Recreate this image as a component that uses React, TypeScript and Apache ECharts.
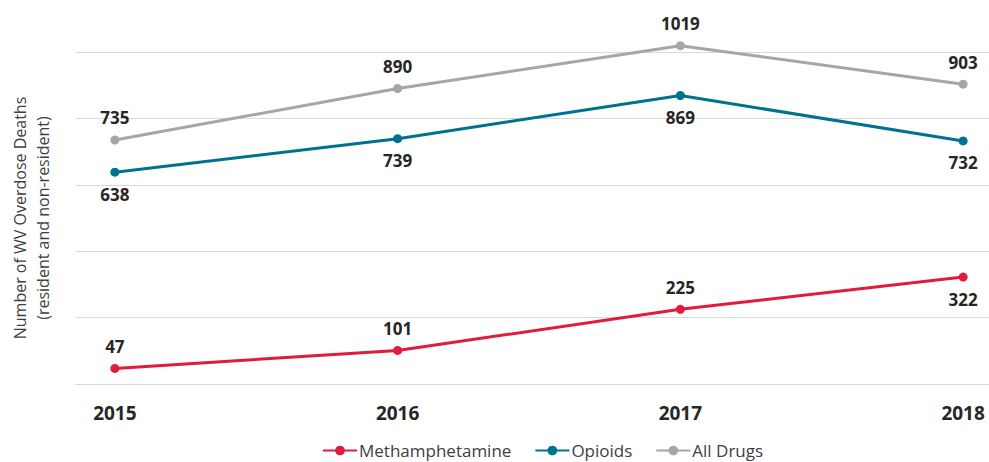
import React, { useEffect, useRef } from "react";
import * as echarts from "echarts";

const years = [2015, 2016, 2017, 2018];
const methValues = [47, 101, 225, 322];
const opioidValues = [638, 739, 869, 732];
const allDrugValues = [735, 890, 1019, 903];
const methLabelPos = ["top", "top", "top", "bottom"];
const seriesNames = ["Methamphetamine", "Opioids", "All Drugs"];

const FONT = "'Open Sans', sans-serif";

export default function App() {
  const ref = useRef<HTMLDivElement>(null);
  useEffect(() => {
    document.body.style.margin = "0";
    const chart = echarts.init(ref.current!, undefined, { renderer: "svg" });
    const labelStyle = {
      show: true,
      fontFamily: FONT,
      fontSize: 17,
      fontWeight: "bold",
      color: "#262626",
      distance: 9,
    };
    const mk = (name: string, vals: number[], color: string, pos: (i: number) => string) => ({
      name,
      type: "line",
      data: vals.map((v, i) => ({
        value: [years[i], v],
        label: { position: pos(i) },
      })),
      symbol: "circle",
      symbolSize: 9,
      clip: false,
      lineStyle: { color, width: 3 },
      itemStyle: { color },
      label: labelStyle,
    });
    chart.setOption({
      animation: false,
      textStyle: { fontFamily: FONT },
      grid: { left: 71, right: 0, top: 52, bottom: 78 },
      legend: {
        left: 322,
        top: 442,
        padding: 0,
        itemWidth: 34,
        itemHeight: 12,
        itemGap: 23,
        textStyle: { fontFamily: FONT, fontSize: 17, color: "#404040", padding: [0, 0, 0, -3] },
        data: seriesNames,
      },
      xAxis: {
        type: "value",
        min: 2014.859,
        max: 2018.0915,
        axisLine: { show: false },
        axisTick: { show: false },
        splitLine: { show: false },
        axisLabel: {
          customValues: years,
          formatter: (v: number) => String(v),
          fontFamily: FONT,
          fontSize: 19,
          fontWeight: "bold",
          color: "#262626",
          margin: 19,
        },
      },
      yAxis: {
        type: "value",
        min: 0,
        max: 1000,
        interval: 200,
        axisLabel: { show: false },
        axisLine: { show: false },
        axisTick: { show: false },
        splitLine: { lineStyle: { color: "#d9d9d9", width: 1 } },
        name: "Number of WV Overdose Deaths\n(resident and non-resident)",
        nameLocation: "middle",
        nameRotate: 90,
        nameGap: 21,
        nameTextStyle: { fontFamily: FONT, fontSize: 16, color: "#404040", lineHeight: 23, padding: [0, 0, 0, 0] },
      },
      series: [
        mk(seriesNames[0], methValues, "#E21A3B", (i) => methLabelPos[i]),
        mk(seriesNames[1], opioidValues, "#00728F", () => "bottom"),
        mk(seriesNames[2], allDrugValues, "#A6A6A6", () => "top"),
      ],
    });
    return () => chart.dispose();
  }, []);
  return <div ref={ref} style={{ width: 989, height: 462 }} />;
}
